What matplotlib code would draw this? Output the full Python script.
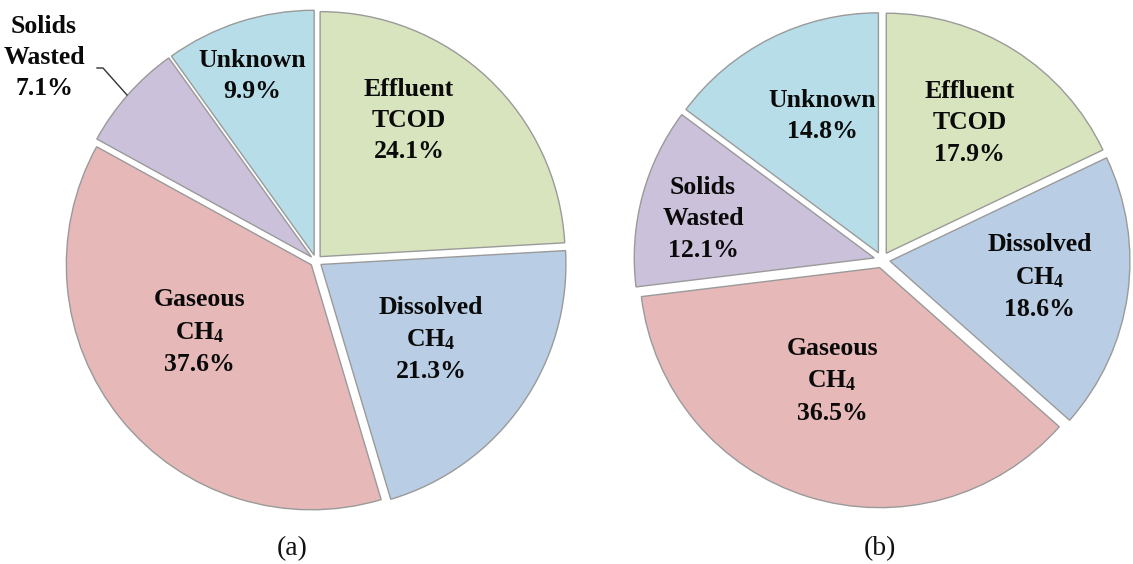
import matplotlib
matplotlib.use("Agg")
import matplotlib.pyplot as plt
import numpy as np

plt.rcParams['font.family'] = ['Liberation Serif', 'DejaVu Serif']
plt.rcParams['mathtext.fontset'] = 'custom'
plt.rcParams['mathtext.rm'] = 'Liberation Serif:bold'
plt.rcParams['mathtext.it'] = 'Liberation Serif:bold'
plt.rcParams['mathtext.bf'] = 'Liberation Serif:bold'

# ---- data ----
categories = ["Effluent\nTCOD", "Dissolved\nCH$_4$", "Gaseous\nCH$_4$", "Solids\nWasted", "Unknown"]
values_a = [24.1, 21.3, 37.6, 7.1, 9.9]
values_b = [17.9, 18.6, 36.5, 12.1, 14.8]
captions = ["(a)", "(b)"]
colors = ["#D7E4BD", "#B9CDE5", "#E6B9B8", "#CCC1DA", "#B7DEE8"]

# ---- layout (pixels, y from top) ----
W, H = 1133, 564
centers = [(316, 261), (882, 260)]
radii = [245, 240]
explodes = [6.0, 8.0]   # pixels (pie explode is in data units)
# label offsets relative to pie center, in radius units (x right, y up)
label_offsets = [
    [(0.38, 0.575), (0.47, -0.32), (-0.475, -0.29), (-1.11, 0.83), (-0.26, 0.755)],
    [(0.366, 0.571), (0.658, -0.071), (-0.208, -0.504), (-0.746, 0.171), (-0.25, 0.60)],
]
caption_pos = [(292, 549), (880, 549)]

fig = plt.figure(figsize=(W / 100, H / 100), dpi=100)
ax = fig.add_axes([0, 0, 1, 1])

for k, vals in enumerate([values_a, values_b]):
    cx, cy = centers[k]
    R = radii[k]
    ax.pie(vals, colors=colors, startangle=90, counterclock=False,
           explode=[explodes[k]] * len(vals), center=(cx, H - cy), radius=R,
           wedgeprops=dict(edgecolor="#9a9a9a", linewidth=1.0), frame=True)
    for cat, v, (dx, dy) in zip(categories, vals, label_offsets[k]):
        ax.text(cx + dx * R, H - cy + dy * R, f"{cat}\n{v:.1f}%",
                ha="center", va="center", fontsize=18.5, fontweight="bold",
                linespacing=1.45, color="#0a0a0a")
    ax.text(caption_pos[k][0], H - caption_pos[k][1], captions[k],
            ha="center", va="center", fontsize=20, color="#111111")

# leader line for Solids Wasted (a)
ax.plot([97, 103, 127], [H - 68, H - 68, H - 95], color="#333333", lw=1.0)

ax.set_xlim(0, W)
ax.set_ylim(0, H)
ax.set_aspect('auto')
ax.axis('off')
fig.savefig("out.png", dpi=100, facecolor="white")
